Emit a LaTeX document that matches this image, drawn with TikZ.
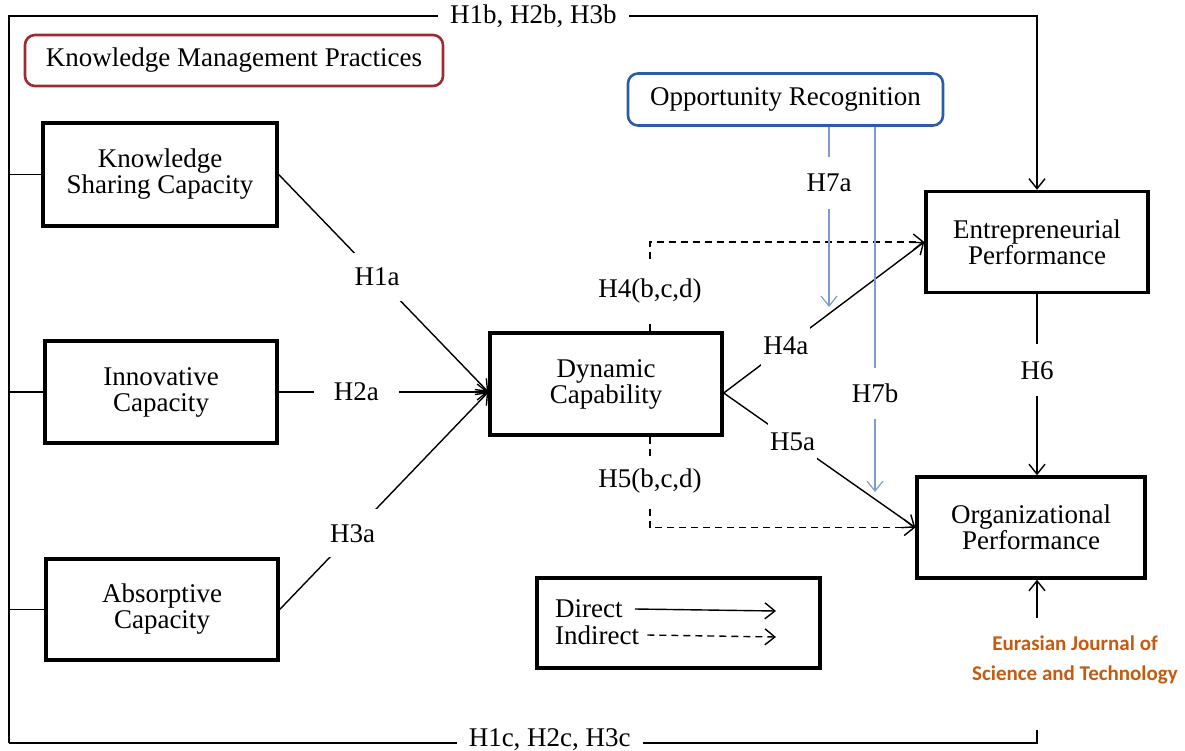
\documentclass[tikz,border=0pt]{standalone}
\usepackage{fontspec}
\setmainfont{Liberation Serif}
\newfontfamily\journalfont{Carlito}
\usepackage{tikz}
\usetikzlibrary{arrows.meta}
\definecolor{kmred}{HTML}{9E2A32}
\definecolor{orblue}{HTML}{2C5CA8}
\definecolor{modline}{HTML}{7F9BCB}
\definecolor{journalcolor}{HTML}{C55A11}
\tikzset{construct/.style={draw,line width=3.4pt,minimum width=232pt,minimum height=102pt,inner sep=0pt,align=center,font=\fontsize{27}{26}\selectfont},group title/.style={draw,line width=2.6pt,rounded corners=10pt,inner sep=0pt,font=\fontsize{27}{26}\selectfont},direct/.style={-{Straight Barb[length=10pt,width=16pt]},line width=1.4pt},indirect/.style={direct,dash pattern=on 7pt off 5pt},moderate/.style={direct,draw=modline,line width=1.2pt},hyp/.style={fill=white,inner xsep=2pt,font=\fontsize{27}{26}\selectfont},legend text/.style={anchor=west,inner sep=0pt,font=\fontsize{27}{26}\selectfont}}

\begin{document}
\begin{tikzpicture}[x=1pt,y=-1pt]
 \useasboundingbox (0,0) rectangle (1185,751);
 \coordinate (tl) at (9,16);
 \coordinate (bl) at (9,743);
 \coordinate (br) at (1037,743);
 \node[group title,draw=kmred,minimum width=418pt,minimum height=51pt] (kmp) at (234,60.5) {Knowledge Management Practices};
 \node[group title,draw=orblue,minimum width=315pt,minimum height=52pt] (or) at (785.5,99.5) {Opportunity Recognition};
 \node[construct,minimum width=234pt,minimum height=103pt] (ksc) at (160,174.5) {Knowledge\\Sharing Capacity};
 \node[construct] (ic) at (161,392) {Innovative\\Capacity};
 \node[construct,minimum height=101pt] (ac) at (162,609.5) {Absorptive\\Capacity};
 \node[construct] (dc) at (606,384) {Dynamic\\Capability};
 \node[construct,minimum width=222pt,minimum height=101pt] (ep) at (1037,242) {Entrepreneurial\\Performance};
 \node[construct,minimum width=228pt,minimum height=101pt] (op) at (1031,527.5) {Organizational\\Performance};
 \node[construct,minimum width=283pt,minimum height=90pt] (legend) at (678.5,623) {};
 \node[legend text] (ldirect) at (555,609) {Direct};
 \node[legend text] (lindirect) at (555,635) {Indirect};
 \coordinate (ldirectend) at (776,611);
 \coordinate (lindirectend) at (776,637);
 \draw[direct] ([xshift=12pt]ldirect.east) -- (ldirectend);
 \draw[indirect] ([xshift=8pt]lindirect.east) -- (lindirectend);
 \node[font=\journalfont\bfseries\fontsize{21}{30}\selectfont,text=journalcolor,align=center] (journal) at (1075,660) {Eurasian Journal of\\Science and Technology};
 % outer frame
 \draw[direct] (bl) -- (tl) -- node[hyp,pos=0.51,inner xsep=12pt] {H1b, H2b, H3b} (tl -| ep.north) -- (ep.north);
 \draw[line width=1.4pt] (bl) -- node[hyp,pos=0.526,inner xsep=12pt,yshift=3pt] {H1c, H2c, H3c} (br) -- ++(0,-13);
 \coordinate (opin) at (1037,618);
 \draw[direct] (opin) -- (opin |- op.south);
 \foreach \src in {ksc,ic,ac} \draw[line width=1.4pt] (\src.west) -- (\src.west -| tl);
 % hypotheses
 \coordinate (dcin) at ([yshift=-8pt]dc.west);
 \coordinate (dcout) at ([yshift=-9pt]dc.east);
 \draw[direct] (ksc.east) -- node[hyp,pos=0.47,inner ysep=15pt] {H1a} (dcin);
 \draw[direct] (ic.east) -- node[hyp,pos=0.37,inner xsep=20pt] {H2a} (dcin);
 \draw[direct] (ac.east) -- node[hyp,pos=0.35,inner ysep=15pt] {H3a} (dcin);
 \draw[direct] (dcout) -- node[hyp,pos=0.31,inner ysep=16pt] {H4a} (ep.west);
 \draw[direct] (dcout) -- node[hyp,pos=0.36,inner ysep=15pt] {H5a} (op.west);
 \draw[indirect] ([xshift=44pt]dc.north) |- node[hyp,pos=0.225,inner ysep=18pt] {H4(b,c,d)} (ep.west);
 \draw[indirect] ([xshift=44pt]dc.south) |- node[hyp,pos=0.243,inner ysep=13pt] {H5(b,c,d)} (op.west);
 \draw[direct] (ep.south) -- node[hyp,pos=0.42,inner ysep=17pt] {H6} (ep.south |- op.north);
 \coordinate (h7aend) at (829,307);
 \coordinate (h7bend) at (875,492);
 \draw[moderate] (or.south -| h7aend) -- node[hyp,pos=0.31,inner ysep=17pt] {H7a} (h7aend);
 \draw[moderate] (or.south -| h7bend) -- node[hyp,pos=0.73,inner ysep=16pt] {H7b} (h7bend);
\end{tikzpicture}
\end{document}
